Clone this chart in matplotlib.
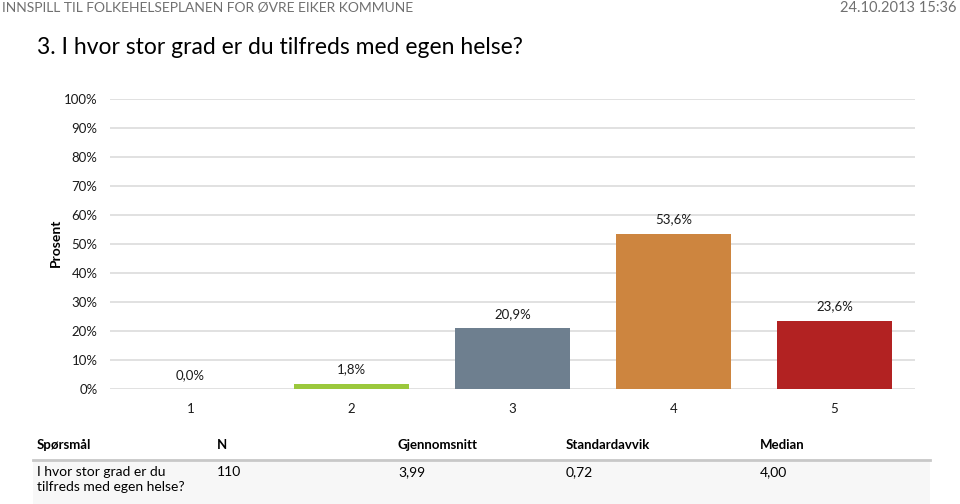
import matplotlib
matplotlib.use("Agg")
import matplotlib.pyplot as plt
from matplotlib.patches import Rectangle
from matplotlib.lines import Line2D

categories = ["1", "2", "3", "4", "5"]
values = [0.0, 1.8, 20.9, 53.6, 23.6]
value_labels = ["0,0%", "1,8%", "20,9%", "53,6%", "23,6%"]
bar_colors = ["#4F81BD", "#9BC83C", "#6E7F8F", "#CD853F", "#B22222"]
yticks = [0, 10, 20, 30, 40, 50, 60, 70, 80, 90, 100]
ytick_labels = [f"{t}%" for t in yticks]

table_headers = ["Spørsmål", "N", "Gjennomsnitt", "Standardavvik", "Median"]
table_row = ["I hvor stor grad er du\ntilfreds med egen helse?", "110", "3,99", "0,72", "4,00"]

plt.rcParams['font.family'] = ['Lato', 'DejaVu Sans']

W, H = 960, 504
fig = plt.figure(figsize=(9.6, 5.04), dpi=100)

def fx(x):
    return x / W

def fy(y):
    return 1 - y / H

# header texts
fig.text(fx(2), fy(8), "INNSPILL TIL FOLKEHELSEPLANEN FOR ØVRE EIKER KOMMUNE",
         fontsize=10, color="#707070", ha="left", va="center")
fig.text(fx(957), fy(8), "24.10.2013 15:36", fontsize=10.5, color="#707070",
         ha="right", va="center")
fig.text(fx(37), fy(47), "3. I hvor stor grad er du tilfreds med egen helse?",
         fontsize=16.5, color="#000000", ha="left", va="center")

ax = fig.add_axes([fx(110), fy(389), fx(915) - fx(110), fy(99) - fy(389)])
x = list(range(len(categories)))
bars = ax.bar(x, values, width=0.715, color=bar_colors, zorder=3)
ax.set_xlim(-0.5, len(categories) - 0.5)
ax.set_ylim(0, 100)
ax.set_yticks(yticks)
ax.set_yticklabels(ytick_labels)
ax.set_xticks(x)
ax.set_xticklabels(categories)
for s in ax.spines.values():
    s.set_visible(False)
ax.yaxis.grid(True, color="#D9D9D9", linewidth=1.1, zorder=0)
ax.tick_params(axis="both", length=0, labelsize=9.5, colors="#1a1a1a")
ax.tick_params(axis="y", pad=9)
ax.tick_params(axis="x", pad=10)
ax.set_ylabel("Prosent", fontsize=10, fontweight="bold")
ax.yaxis.set_label_coords((62 - 110) / 805, (389 - 243) / 290)

for xi, v, lab in zip(x, values, value_labels):
    ax.annotate(lab, (xi, v), xytext=(0, 6), textcoords="offset points",
                ha="center", va="bottom", fontsize=9.5, color="#1a1a1a")

# table
col_x = [37, 217, 398, 566, 760]
for cx, htxt in zip(col_x, table_headers):
    fig.text(fx(cx), fy(445), htxt, fontsize=9.5, fontweight="bold",
             ha="left", va="center", color="#000000")
fig.patches.append(Rectangle((fx(33), fy(504)), fx(930) - fx(33), fy(461) - fy(504),
                             transform=fig.transFigure, facecolor="#F7F7F7",
                             edgecolor="none", zorder=0))
fig.lines.append(Line2D([fx(33), fx(930)], [fy(460), fy(460)], transform=fig.transFigure,
                        color="#C8C8C8", linewidth=2))
for i, (cx, t) in enumerate(zip(col_x, table_row)):
    fig.text(fx(cx), fy(466), t, fontsize=10, ha="left", va="top",
             color="#000000", linespacing=1.3)

fig.savefig("out.png", dpi=100)
